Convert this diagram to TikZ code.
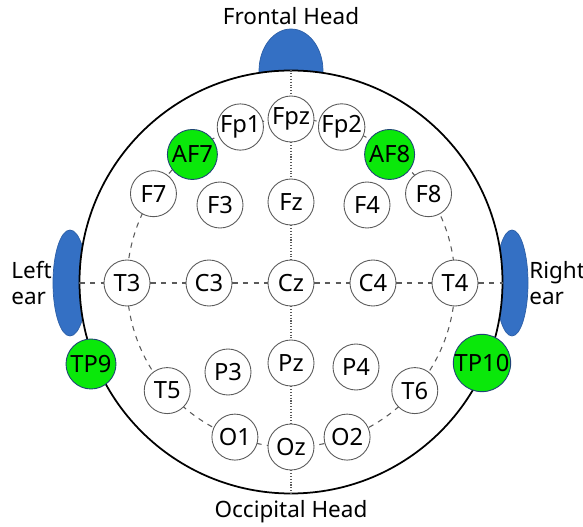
\documentclass[tikz,border=0pt]{standalone}
\usepackage{fontspec}
\setmainfont{Noto Sans}
\usepackage{xcolor}
\definecolor{earblue}{RGB}{52, 112, 196}
\definecolor{refgreen}{RGB}{10, 232, 10}
\definecolor{linegray}{RGB}{90, 90, 90}
\usepackage{tikz}
\usetikzlibrary{positioning, calc}

\begin{document}
\begin{tikzpicture}[font=\fontsize{12.8}{14.5}\selectfont,
    electrode/.style={circle, draw=linegray, line width=0.5pt, fill=white, minimum size=0.92cm, inner sep=0pt, font=\fontsize{13.5}{15}\selectfont},
    refelec/.style={electrode, fill=refgreen, draw=earblue!60!black, minimum size=1.0cm},
    guide/.style={linegray, line width=0.6pt}]
    \useasboundingbox (-5.82,-4.88) rectangle (5.84,5.66);
    \filldraw[earblue, draw=earblue!85!black] (0,4.24) ellipse (0.64cm and 0.84cm);
    \filldraw[earblue, draw=earblue!85!black] (-4.42,0) ellipse (0.34cm and 1.06cm);
    \filldraw[earblue, draw=earblue!85!black] (4.42,0) ellipse (0.32cm and 1.06cm);
    \filldraw[fill=white, draw=black, line width=1pt] (0,0.02) circle (4.23cm);
    \draw[guide, dashed] (0,0) circle (3.28cm);
    \coordinate (top) at (0,4.25);
    \coordinate (bottom) at (0,-4.21);
    \coordinate (hl) at (-4.23,0);
    \coordinate (hr) at (4.23,0);
    \node[electrode] (Fpz) at (90:3.28) {Fpz};
    \node[electrode] (Fp1) at (108:3.28) {Fp1};
    \node[electrode] (Fp2) at (72:3.28) {Fp2};
    \node[refelec] (AF7) at (127.5:3.24) {AF7};
    \node[refelec] (AF8) at (52.5:3.24) {AF8};
    \node[electrode] (F7) at (147:3.28) {F7};
    \node[electrode] (F8) at (33:3.28) {F8};
    \node[electrode] (T3) at (180:3.28) {T3};
    \node[electrode] (T4) at (0:3.28) {T4};
    \node[electrode] (T5) at (221:3.28) {T5};
    \node[electrode] (T6) at (319:3.28) {T6};
    \node[electrode] (O1) at (250:3.28) {O1};
    \node[electrode] (Oz) at (270:3.28) {Oz};
    \node[electrode] (O2) at (290:3.28) {O2};
    \node[electrode] (F3) at (-1.42,1.56) {F3};
    \node[electrode] (Fz) at (0,1.62) {Fz};
    \node[electrode] (F4) at (1.52,1.56) {F4};
    \node[electrode] (C3) at (-1.64,0) {C3};
    \node[electrode] (Cz) at (0,0) {Cz};
    \node[electrode] (C4) at (1.64,0) {C4};
    \node[electrode] (P3) at (-1.26,-1.78) {P3};
    \node[electrode] (Pz) at (0,-1.6) {Pz};
    \node[electrode] (P4) at (1.3,-1.68) {P4};
    \node[refelec] (TP9) at (-4.0,-1.62) {TP9};
    \node[refelec] (TP10) at (3.82,-1.6) {TP10};
    \foreach \a/\b in {hl/T3, T3/C3, C3/Cz, Cz/C4, C4/T4, T4/hr}
        \draw[guide, dashed] (\a) -- (\b);
    \foreach \a/\b in {top/Fpz, Fpz/Fz, Fz/Cz, Cz/Pz, Pz/Oz, Oz/bottom}
        \draw[guide, densely dotted] (\a) -- (\b);
    \node (frontal) at (0,5.34) {Frontal Head};
    \node (occipital) at (0,-4.58) {Occipital Head};
    \node[align=left, anchor=west, inner sep=0pt] (leftear) at (-5.6,0) {Left\\ear};
    \node[align=left, anchor=west, inner sep=0pt] (rightear) at (4.76,0) {Right\\ear};
\end{tikzpicture}
\end{document}
